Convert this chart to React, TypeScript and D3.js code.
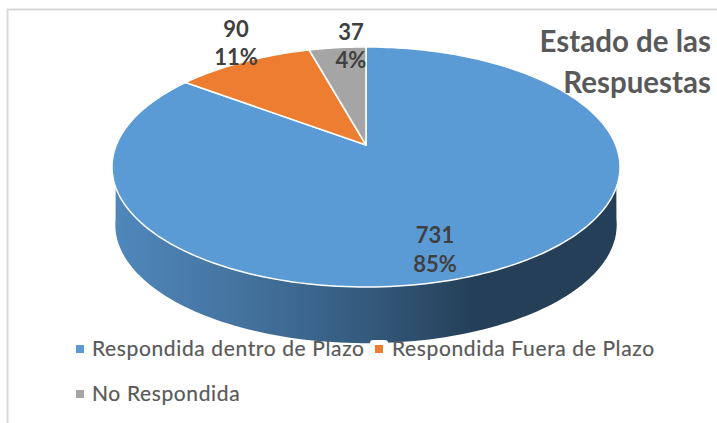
import React from "react";
import * as d3 from "d3";

const categories = ["Respondida dentro de Plazo", "Respondida Fuera de Plazo", "No Respondida"];
const values = [731, 90, 37];
const percents = ["85%", "11%", "4%"];
const colors = ["#5B9BD5", "#ED7D31", "#A5A5A5"];
const titleLines = ["Estado de las", "Respuestas"];

const W = 717, H = 423;
const CX = 366, CY = 145, B = 249.7, A = 116, K = 0.1833;
const DEPTH = 58, SHRINK = 0.987;

// perspective projection of a unit-circle angle (clockwise from 12 o'clock)
function project(t: number, s = 1, dy = 0): [number, number] {
  const u = Math.sin(t), v = Math.cos(t), d = 1 + K * v;
  return [CX + (s * B * u) / d, CY + dy - (s * A * v) / d];
}
const rad = (deg: number) => (deg * Math.PI) / 180;
const line = d3.line<[number, number]>();

function samples(a0: number, a1: number, s = 1, dy = 0) {
  const n = Math.max(2, Math.ceil(Math.abs(a1 - a0) * 40));
  return d3.range(n + 1).map((i) => project(a0 + ((a1 - a0) * i) / n, s, dy));
}

const arcs = d3.pie<number>().sort(null)(values);
const side = [...samples(rad(110), rad(250)), ...samples(rad(262), rad(98), SHRINK, DEPTH)];

const labelPos = [
  { x: 435, y: 243, dy: 29 },
  { x: 236, y: 37, dy: 28 },
  { x: 351, y: 40, dy: 28 },
];
const legendPos = [
  { x: 76, y: 345, tx: 92, ty: 356 },
  { x: 375, y: 345, tx: 392, ty: 356 },
  { x: 76, y: 390, tx: 92, ty: 401 },
];

export default function App() {
  const font = "Lato, 'Open Sans', sans-serif";
  return (
    <svg width={W} height={H} style={{ position: "fixed", left: 0, top: 0, background: "#fff" }} fontFamily={font}>
      <defs>
        <linearGradient id="sideGrad" gradientUnits="userSpaceOnUse" x1={113} x2={620} y1={0} y2={0}>
          <stop offset="0" stopColor="#5088BC" />
          <stop offset="0.25" stopColor="#44739F" />
          <stop offset="0.5" stopColor="#345A7D" />
          <stop offset="0.72" stopColor="#243F57" />
          <stop offset="1" stopColor="#243F57" />
        </linearGradient>
      </defs>
      <path d={`M7.5 423V9.5H717`} fill="none" stroke="#D9D9D9" strokeWidth={2} />
      <path d={line(side)! + "Z"} fill="url(#sideGrad)" />
      {arcs.map((a, i) => (
        <path
          key={categories[i]}
          d={`M${CX} ${CY}L` + line(samples(a.startAngle, a.endAngle))!.slice(1) + "Z"}
          fill={colors[i]}
          stroke="#fff"
          strokeWidth={1.5}
          strokeLinejoin="round"
        />
      ))}
      {titleLines.map((t, i) => (
        <text key={t} x={711} y={52 + i * 41} textAnchor="end" fontSize={29.5} fontWeight={700} fill="#595959">
          {t}
        </text>
      ))}
      {values.map((v, i) => (
        <g key={v} textAnchor="middle" fontSize={22} fontWeight={700} fill="#404040">
          <text x={labelPos[i].x} y={labelPos[i].y}>{v}</text>
          <text x={labelPos[i].x} y={labelPos[i].y + labelPos[i].dy}>{percents[i]}</text>
        </g>
      ))}
      <rect x={370} y={340} width={18} height={20} rx={3} fill="#fff" />
      {categories.map((c, i) => (
        <g key={c}>
          <rect x={legendPos[i].x} y={legendPos[i].y} width={8} height={8} fill={colors[i]} />
          <text x={legendPos[i].tx} y={legendPos[i].ty} fontSize={21} fill="#595959" letterSpacing={0.63} stroke="#595959" strokeWidth={0.2}>
            {c}
          </text>
        </g>
      ))}
    </svg>
  );
}
